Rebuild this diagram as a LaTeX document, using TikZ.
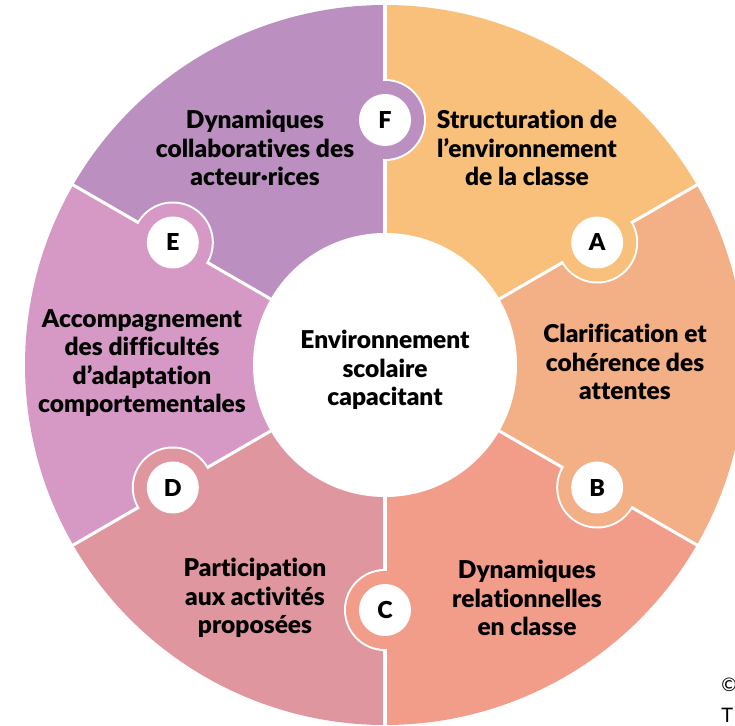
\documentclass[tikz,border=0pt]{standalone}
\usepackage{fontspec}
\setmainfont{Lato}[Ligatures=NoCommon, BoldFont={Lato Black}]

\definecolor{secA}{HTML}{F8C07B}
\definecolor{secB}{HTML}{F3AF85}
\definecolor{secC}{HTML}{F29C8A}
\definecolor{secD}{HTML}{E0969F}
\definecolor{secE}{HTML}{D699C5}
\definecolor{secF}{HTML}{BB90C0}

\tikzset{
  sectxt/.style={font=\bfseries\fontsize{18.4}{21.4}\selectfont, align=center, text=black},
  letter/.style={circle, fill=white, minimum size=39pt, inner sep=0pt, font=\bfseries\fontsize{17.5}{18}\selectfont},
}

\begin{document}
\begin{tikzpicture}[x=0.75pt, y=0.75pt]
\useasboundingbox (-385,-360) rectangle (350,365);

% the six sectors, each starting at angle \a
\foreach \a/\c in {30/secA, -30/secB, -90/secC, -150/secD, 150/secE, 90/secF}
  \fill[\c] (0,0) -- (\a:360) arc[start angle=\a, delta angle=60, radius=360] -- cycle;
\foreach \a in {30,90,...,330}
  \draw[white, line width=2.3] (0,0) -- (\a:362);

% letter bumps on the borders
\foreach \a/\c/\l in {30/secA/A, -30/secB/B, -90/secC/C, -150/secD/D, 150/secE/E, 90/secF/F} {
  \begin{scope}
    \clip (0,0) -- (\a-60:400) arc[start angle=\a-60, delta angle=60, radius=400] -- cycle;
    \fill[white] (\a:245) circle (41);
  \end{scope}
  \fill[\c] (\a:245) circle (39);
  \node[letter] (lbl\l) at (\a:245) {\l};
}

% centre
\node[circle, fill=white, minimum size=198pt, inner sep=0pt] (core) at (0,0) {};
\node[sectxt] (coretxt) at (0,-5) {Environnement\\scolaire\\capacitant};

% sector texts
\node[sectxt] (txtA) at (142,217) {Structuration de\\l’environnement\\de la classe};
\node[sectxt] (txtB) at (240,3) {Clarification et\\cohérence des\\attentes};
\node[sectxt] (txtC) at (142,-233) {Dynamiques\\relationnelles\\en classe};
\node[sectxt] (txtD) at (-130,-233) {Participation\\aux activités\\proposées};
\node[sectxt] (txtE) at (-243,2) {Accompagnement\\des difficultés\\d’adaptation\\comportementales};
\node[sectxt] (txtF) at (-130,217) {Dynamiques\\collaboratives des\\acteur·rices};

% credit, cut by the page edge
\node[anchor=west, inner sep=0pt, font=\fontsize{14}{16}\selectfont] (copy) at (336,-320) {©};
\node[anchor=west, inner sep=0pt, font=\fontsize{15}{16}\selectfont] (credit) at (336,-350) {T};
\end{tikzpicture}
\end{document}
